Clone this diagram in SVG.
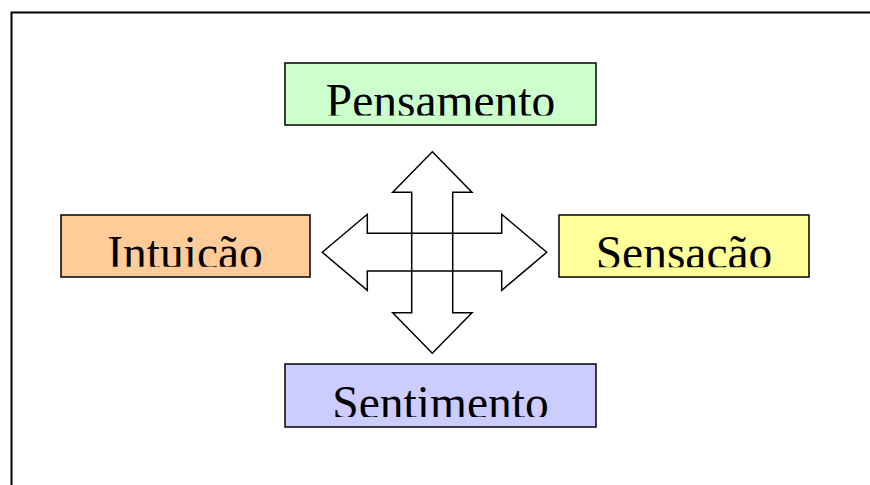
<svg xmlns="http://www.w3.org/2000/svg" width="870" height="485" viewBox="0 0 870 485">
<style>
.box{stroke:#000;stroke-width:1.5}
.lbl{font-family:"Liberation Serif","Times New Roman",serif;font-size:47.5px;fill:#000;text-anchor:middle}
.arr{fill:none;stroke:#000;stroke-width:1.5;stroke-linejoin:miter}
</style>
<defs>
<clipPath id="c1"><rect x="285" y="63" width="311" height="52.5"/></clipPath>
<clipPath id="c2"><rect x="61" y="215" width="249" height="51.7"/></clipPath>
<clipPath id="c3"><rect x="559" y="215" width="250" height="52.3"/></clipPath>
<clipPath id="c4"><rect x="285" y="364" width="311" height="53"/></clipPath>
</defs>
<rect width="870" height="485" fill="#fff"/>
<path d="M11.5 485 V12.5 H870" fill="none" stroke="#000" stroke-width="2"/>
<g id="pensamento">
<rect class="box" x="285" y="63" width="311" height="62" fill="#ccffcc"/>
<text class="lbl" x="440.5" y="117" clip-path="url(#c1)">Pensamento</text>
</g>
<g id="intuicao">
<rect class="box" x="61" y="215" width="249" height="62" fill="#ffcc99"/>
<text class="lbl" x="185" y="269" clip-path="url(#c2)">Intuição</text>
</g>
<g id="sensacao">
<rect class="box" x="559" y="215" width="250" height="62" fill="#ffff99"/>
<text class="lbl" x="684" y="269" clip-path="url(#c3)">Sensação</text>
</g>
<g id="sentimento">
<rect class="box" x="285" y="364" width="311" height="63" fill="#ccccff"/>
<text class="lbl" x="440.5" y="419" clip-path="url(#c4)">Sentimento</text>
</g>
<g id="connectors">
<polygon class="arr" points="432.3,151.7 472,192.3 452.7,192.3 452.7,312.7 472,312.7 432.3,353.3 392.7,312.7 411.7,312.7 411.7,192.3 392.7,192.3"/>
<polygon class="arr" points="322.3,252.3 367.3,214.3 367.3,233.3 501.7,233.3 501.7,214.3 546.7,252.3 501.7,290.3 501.7,271 367.3,271 367.3,290.3"/>
</g>
</svg>
